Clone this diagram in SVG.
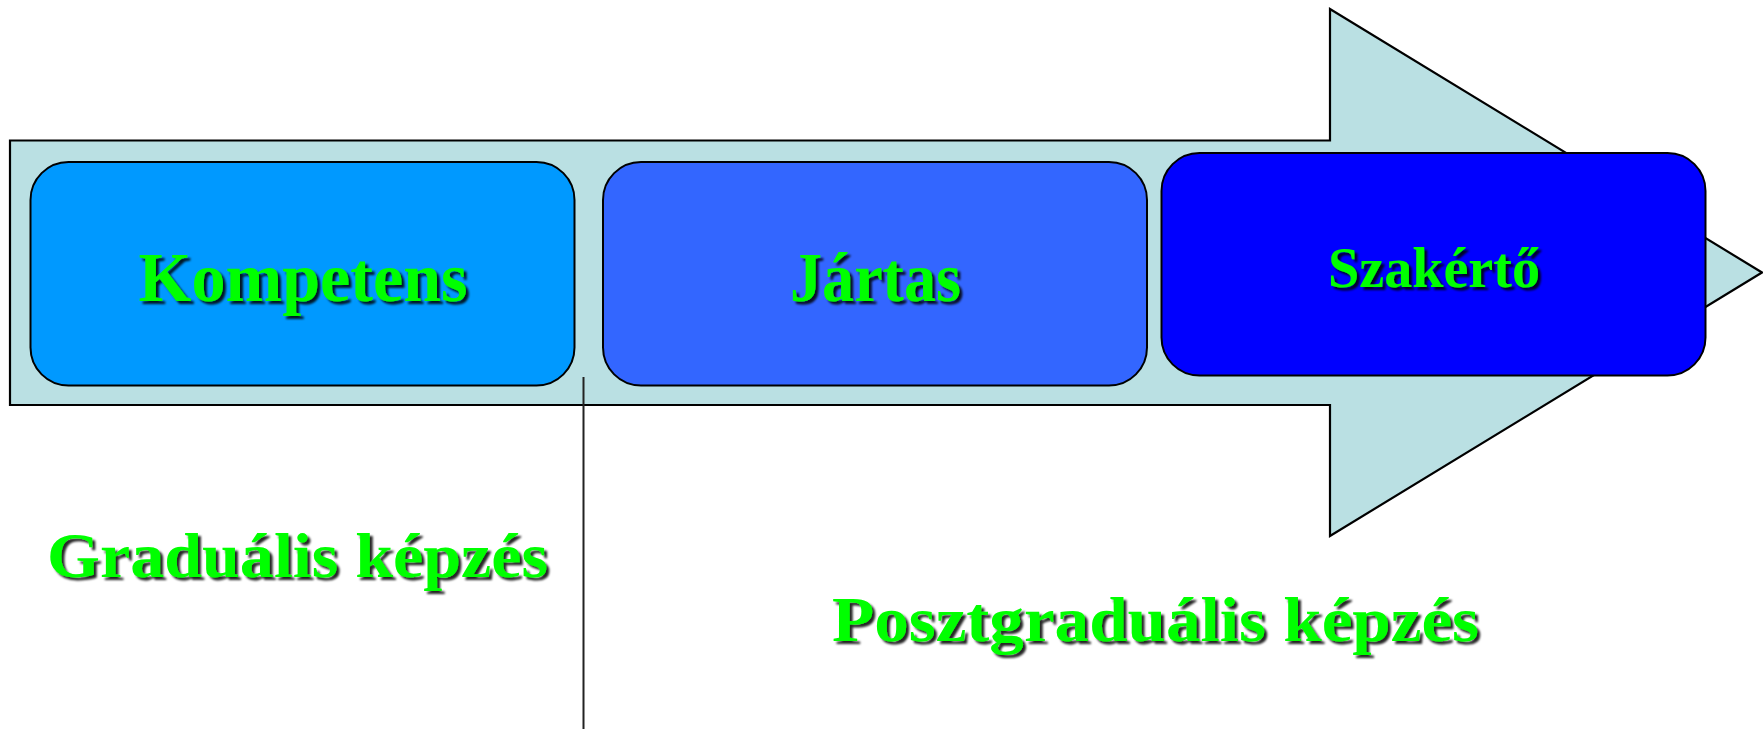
<svg xmlns="http://www.w3.org/2000/svg" width="1763" height="729" viewBox="0 0 1763 729">
<defs>
<filter id="sh" x="-10%" y="-20%" width="120%" height="150%">
<feDropShadow dx="3" dy="3" stdDeviation="1.2" flood-color="#000" flood-opacity="0.85"/>
</filter>
<style>
.lbl{font-family:"Liberation Serif","DejaVu Serif",serif;font-weight:bold;fill:#00FF00;text-anchor:middle;filter:url(#sh)}
.box{stroke:#000;stroke-width:2}
</style>
</defs>
<rect x="0" y="0" width="1763" height="729" fill="#fff"/>
<g id="arrow">
<path d="M10,140.5 H1330 V9 L1762,272.5 L1330,536 V405 H10 Z" fill="#BAE0E3" stroke="#000" stroke-width="2.2"/>
</g>
<g id="connectors">
<line x1="583.5" y1="377" x2="583.5" y2="729" stroke="#222" stroke-width="2"/>
</g>
<g id="kompetens">
<rect class="box" x="30.5" y="162" width="544" height="223.5" rx="38" fill="#0099FF"/>
<text class="lbl" x="303" y="301" font-size="70" textLength="329" lengthAdjust="spacingAndGlyphs">Kompetens</text>
</g>
<g id="jartas">
<rect class="box" x="603" y="162" width="544" height="223.5" rx="38" fill="#3366FF"/>
<text class="lbl" x="875.5" y="301" font-size="70" textLength="171" lengthAdjust="spacingAndGlyphs">Jártas</text>
</g>
<g id="szakerto">
<rect class="box" x="1161.5" y="153" width="544" height="222.5" rx="38" fill="#0000FF"/>
<text class="lbl" x="1434" y="287" font-size="58" textLength="212" lengthAdjust="spacingAndGlyphs">Szakértő</text>
</g>
<g id="gradualis">
<text class="lbl" x="297.5" y="577" font-size="64" textLength="501" lengthAdjust="spacingAndGlyphs">Graduális képzés</text>
</g>
<g id="posztgradualis">
<text class="lbl" x="1155.5" y="641" font-size="64" textLength="647" lengthAdjust="spacingAndGlyphs">Posztgraduális képzés</text>
</g>
</svg>
